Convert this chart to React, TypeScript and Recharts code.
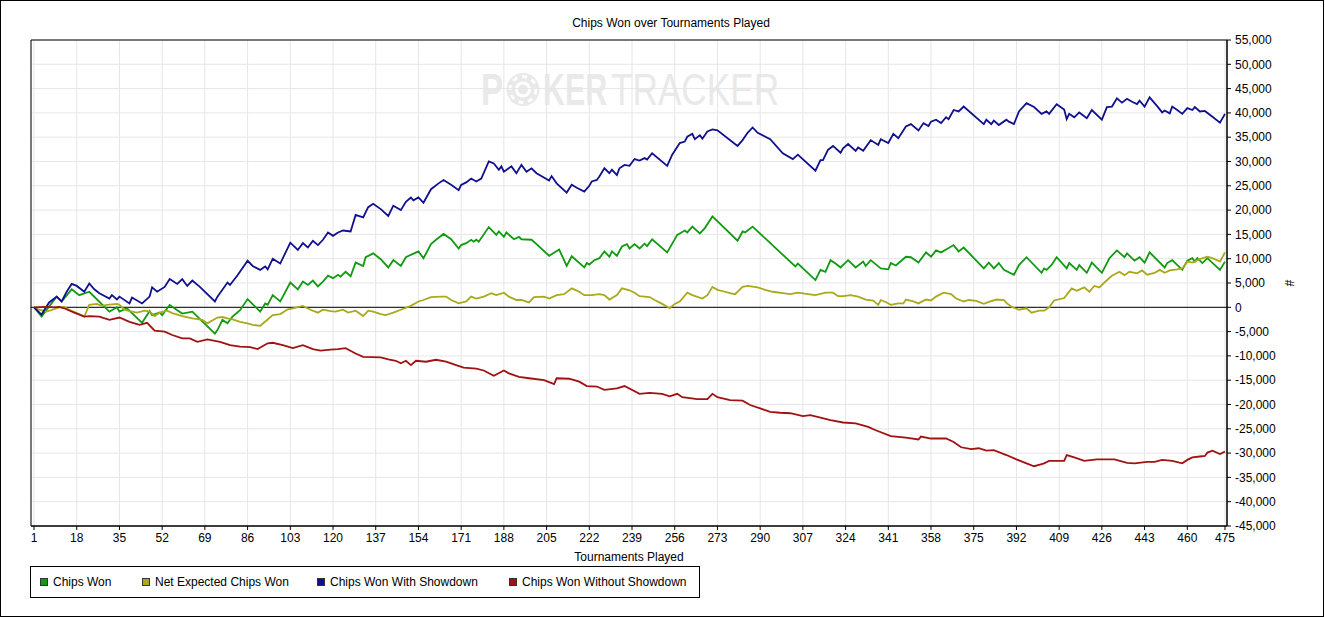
import React from 'react'
import {
  LineChart, Line, XAxis, YAxis, CartesianGrid, ReferenceLine, ReferenceArea,
} from 'recharts'

// [tournament, chips]
const chipsWon: [number, number][] = [
  [1, 0], [4, -1900], [10, 2200], [12, 1200], [16, 3700], [19, 2500], [23, 3200], [31, -900], [34, 0], [35, -900],
  [38, -200], [44, -3200], [47, -800], [48, -1600], [51, -1100], [52, -1600], [55, 500], [58, -600], [60, -1300], [64, -900],
  [73, -5400], [74, -4700], [76, -2600], [78, -3300], [80, -1900], [83, -600], [86, 1700], [91, -900], [93, 800], [94, 500],
  [96, 2500], [99, 1200], [103, 5100], [106, 3700], [108, 5300], [110, 4600], [112, 5500], [114, 4300], [116, 5300], [118, 6500],
  [120, 6000], [122, 6700], [123, 6300], [125, 7300], [127, 6400], [129, 9200], [132, 8500], [133, 10300], [136, 11100], [139, 9900],
  [142, 8200], [144, 9700], [147, 8500], [149, 10300], [151, 10800], [154, 11500], [156, 10100], [159, 13000], [161, 13900], [164, 15100],
  [167, 14000], [170, 12100], [171, 12800], [173, 13200], [175, 13900], [176, 13500], [177, 13900], [178, 13500], [182, 16500], [185, 14900],
  [186, 15600], [188, 14500], [189, 15400], [192, 14000], [194, 14500], [195, 14000], [199, 13900], [201, 13000], [206, 10600], [210, 11900],
  [213, 8500], [215, 10500], [220, 8200], [221, 9100], [222, 8800], [224, 9700], [226, 10100], [228, 11500], [230, 10400], [231, 11500],
  [233, 10600], [235, 12500], [237, 13000], [238, 12100], [240, 13000], [242, 12100], [244, 13100], [245, 12600], [247, 14000], [253, 11300],
  [257, 14900], [258, 15200], [260, 15800], [261, 15400], [263, 16600], [266, 15200], [268, 16300], [271, 18700], [281, 13700], [283, 15600],
  [284, 15400], [287, 16600], [304, 8400], [305, 9000], [312, 5600], [314, 7700], [316, 7300], [318, 9700], [320, 9000], [322, 8200],
  [325, 9700], [328, 8200], [331, 9400], [332, 8500], [334, 9700], [338, 8000], [341, 7800], [342, 9100], [344, 8600], [348, 10400],
  [350, 10300], [353, 9200], [356, 11300], [358, 10400], [360, 11700], [362, 11300], [364, 11900], [367, 12800], [369, 11500], [371, 12300],
  [379, 8000], [381, 9200], [383, 8000], [385, 9100], [387, 7700], [391, 6700], [393, 8700], [396, 10300], [402, 7100], [403, 8000],
  [404, 7700], [406, 8700], [408, 10300], [412, 8000], [413, 9100], [416, 7700], [417, 8700], [420, 7100], [422, 9200], [426, 7100],
  [429, 10100], [432, 11700], [435, 10300], [436, 11100], [439, 9600], [441, 10300], [443, 9200], [445, 11300], [451, 8200], [452, 9100],
  [454, 9700], [458, 7700], [460, 9600], [462, 10100], [463, 9400], [464, 10100], [466, 9100], [468, 10100], [473, 7700], [475, 9400],
]

const netExpected: [number, number][] = [
  [1, 0], [3, -500], [6, -900], [9, -400], [11, 0], [13, 100], [15, -500], [19, -1400], [21, -1900], [23, 500],
  [26, 700], [28, 300], [30, 500], [34, 700], [35, 500], [37, -500], [39, -800], [42, -1100], [45, -700], [47, -900],
  [49, -1800], [51, -1100], [54, -700], [56, -1200], [60, -1800], [64, -2300], [68, -2600], [70, -3300], [74, -2100], [76, -2000],
  [78, -2300], [80, -2500], [83, -3000], [86, -3300], [88, -3600], [91, -3800], [94, -2500], [96, -1600], [99, -1400], [102, -400],
  [104, -200], [108, 300], [111, -500], [114, -1100], [116, -500], [119, -800], [121, -900], [124, -500], [126, -1100], [129, -700],
  [132, -1800], [134, -700], [136, -900], [139, -1400], [141, -1600], [144, -1100], [147, -500], [151, 300], [154, 1200], [156, 1500],
  [159, 2100], [163, 2200], [165, 2200], [167, 1500], [170, 800], [173, 1200], [175, 2200], [177, 1800], [180, 2200], [183, 2900],
  [185, 2500], [188, 3000], [190, 2200], [193, 1500], [195, 1500], [198, 1000], [200, 2100], [204, 2200], [206, 1800], [209, 2500],
  [212, 2700], [215, 3900], [218, 3200], [220, 2500], [223, 2500], [226, 2700], [228, 2500], [230, 1600], [233, 2500], [235, 3900],
  [238, 3500], [240, 3000], [242, 2300], [246, 2100], [248, 1500], [251, 700], [254, -200], [256, 700], [258, 1200], [261, 3000],
  [263, 2500], [267, 1800], [269, 2500], [271, 4200], [273, 3600], [276, 3200], [278, 2900], [280, 2700], [283, 4200], [285, 4400],
  [289, 4100], [292, 3600], [295, 3200], [299, 2900], [302, 2700], [305, 3000], [309, 2700], [312, 2500], [316, 3000], [319, 3000],
  [321, 2300], [323, 2300], [326, 2500], [329, 2200], [332, 1600], [335, 1400], [337, 500], [338, 1500], [340, 1100], [342, 500],
  [345, 800], [347, 800], [348, 1600], [351, 1200], [353, 800], [356, 1600], [358, 1400], [360, 2200], [363, 3000], [366, 2700],
  [368, 1800], [371, 1200], [373, 1500], [376, 1300], [379, 700], [381, 1100], [384, 1600], [387, 1500], [388, 900], [390, 100],
  [393, -500], [396, -200], [398, -1100], [401, -700], [403, -700], [405, 0], [407, 1400], [411, 1900], [414, 3900], [416, 3400],
  [419, 4100], [421, 3200], [423, 4400], [425, 4100], [427, 5100], [430, 6500], [433, 7300], [435, 6600], [437, 7300], [440, 7000],
  [442, 7600], [444, 6700], [447, 7100], [449, 7700], [451, 7100], [453, 7600], [456, 7800], [458, 8000], [460, 9400], [462, 9200],
  [465, 9900], [468, 10400], [470, 10100], [473, 9400], [475, 11300],
]

const withShowdown: [number, number][] = [
  [1, 0], [4, -1500], [7, 1000], [10, 2200], [12, 1200], [14, 3200], [16, 4800], [18, 4400], [21, 3200], [23, 4900],
  [25, 3700], [27, 2900], [31, 1800], [32, 2500], [34, 1600], [35, 2200], [39, 800], [40, 2000], [44, 800], [47, 2200],
  [48, 4100], [50, 3200], [53, 4200], [55, 5800], [58, 4800], [60, 5800], [62, 4400], [64, 5500], [67, 4200], [73, 1200],
  [74, 2200], [78, 5100], [79, 4600], [82, 6600], [86, 9600], [88, 8500], [91, 7700], [93, 8400], [94, 7800], [96, 10000],
  [99, 9000], [103, 13300], [106, 11800], [108, 13200], [110, 12300], [112, 13700], [114, 12800], [116, 13900], [118, 15400], [120, 14700],
  [122, 15400], [124, 15800], [127, 15600], [129, 19000], [132, 18500], [134, 20600], [136, 21300], [139, 20200], [142, 18800], [144, 20900],
  [147, 20000], [149, 21700], [151, 22600], [152, 22000], [154, 22600], [156, 21500], [159, 24300], [162, 25500], [164, 26200], [167, 25200],
  [170, 24100], [171, 25200], [173, 25700], [175, 26500], [177, 25900], [179, 26500], [182, 30000], [184, 29600], [186, 28300], [187, 29000],
  [188, 27900], [191, 29000], [193, 27600], [195, 29300], [197, 27900], [199, 28600], [201, 27600], [206, 26100], [207, 27000], [209, 25500],
  [213, 23600], [215, 25200], [217, 24600], [220, 23800], [222, 25000], [223, 25900], [225, 26200], [226, 26900], [228, 28600], [230, 27600],
  [231, 28300], [233, 27200], [234, 28600], [236, 29300], [238, 29100], [240, 30500], [242, 30200], [244, 30700], [245, 30400], [247, 31700],
  [253, 29100], [255, 31400], [258, 33800], [260, 34100], [261, 35100], [263, 35700], [264, 34600], [266, 35400], [267, 34700], [269, 36200],
  [271, 36600], [273, 36400], [281, 33200], [283, 34400], [285, 35900], [287, 37000], [289, 35900], [294, 34600], [299, 31700], [303, 30500],
  [305, 31400], [312, 28100], [314, 30300], [315, 30300], [317, 32400], [319, 33200], [322, 31800], [323, 32700], [325, 33600], [328, 32200],
  [329, 32900], [331, 32200], [334, 34400], [337, 33400], [338, 34600], [341, 33800], [343, 35700], [345, 34800], [348, 37200], [350, 37700],
  [353, 36400], [355, 37900], [357, 37300], [358, 38200], [360, 38600], [362, 37900], [364, 39100], [365, 38700], [367, 40600], [369, 40300],
  [371, 41300], [379, 37700], [380, 38600], [382, 37700], [383, 38400], [385, 37500], [388, 38600], [389, 38200], [391, 37700], [393, 40300],
  [396, 42000], [399, 41200], [402, 39800], [404, 40300], [405, 39800], [408, 41800], [411, 40700], [412, 38700], [413, 39800], [415, 39100],
  [417, 40100], [420, 38900], [422, 40600], [426, 38600], [428, 41200], [430, 41300], [432, 43000], [434, 42100], [436, 42900], [438, 42300],
  [440, 41800], [441, 42500], [443, 41300], [445, 43200], [448, 41400], [450, 40100], [451, 40500], [453, 39900], [454, 41300], [456, 40600],
  [458, 39800], [460, 41000], [462, 40600], [463, 41200], [465, 40300], [467, 40400], [470, 39200], [473, 38000], [475, 39800],
]

const withoutShowdown: [number, number][] = [
  [1, 0], [6, 100], [9, 0], [11, 100], [13, -200], [17, -1100], [21, -1900], [23, -1800], [27, -1900], [31, -2600],
  [35, -2100], [39, -3000], [43, -3600], [46, -3200], [49, -4800], [53, -5000], [56, -5700], [60, -6400], [63, -6400], [66, -7100],
  [70, -6600], [75, -7100], [79, -7800], [83, -8100], [87, -8200], [90, -8600], [94, -7400], [96, -7300], [100, -7800], [104, -8400],
  [108, -7800], [112, -8600], [115, -8900], [119, -8700], [122, -8600], [125, -8400], [129, -9500], [132, -10200], [139, -10300], [142, -10700],
  [145, -11000], [147, -11500], [149, -11000], [151, -11900], [153, -11000], [157, -11200], [161, -10800], [165, -11200], [169, -11900], [172, -12400],
  [177, -12600], [180, -13000], [184, -14100], [188, -13000], [190, -13600], [194, -14300], [198, -14600], [204, -15000], [208, -15800], [209, -14600],
  [214, -14700], [218, -15300], [221, -16200], [225, -16300], [228, -17000], [233, -16700], [236, -16200], [242, -17800], [246, -17600], [251, -17800],
  [254, -18300], [257, -17800], [259, -18500], [265, -18900], [269, -18900], [271, -17800], [273, -18500], [278, -19100], [283, -19200], [286, -20100],
  [290, -20800], [294, -21500], [298, -21700], [302, -21800], [307, -22400], [310, -22200], [314, -22700], [318, -23200], [323, -23700], [328, -23900],
  [333, -24600], [336, -25300], [342, -26500], [348, -26800], [353, -27200], [354, -26600], [358, -27000], [364, -27000], [367, -27700], [370, -28800],
  [374, -29200], [377, -29000], [380, -29500], [383, -29400], [388, -30400], [392, -31300], [396, -32100], [399, -32700], [401, -32400], [403, -32100],
  [405, -31600], [411, -31600], [412, -30400], [415, -30900], [419, -31600], [424, -31300], [431, -31300], [436, -32000], [439, -32100], [444, -31800],
  [447, -31800], [450, -31400], [454, -31600], [458, -32100], [460, -31400], [462, -30900], [465, -30700], [467, -30600], [468, -29900], [470, -29500],
  [473, -30200], [475, -29700],
]

const xTicks = [1, 18, 35, 52, 69, 86, 103, 120, 137, 154, 171, 188, 205, 222, 239, 256, 273, 290, 307, 324, 341, 358, 375, 392, 409, 426, 443, 460, 475]
const yTicks = [-45000, -40000, -35000, -30000, -25000, -20000, -15000, -10000, -5000, 0, 5000, 10000, 15000, 20000, 25000, 30000, 35000, 40000, 45000, 50000, 55000]

const series = [
  { name: 'Chips Won', color: '#119a11', data: chipsWon },
  { name: 'Net Expected Chips Won', color: '#a9a91c', data: netExpected },
  { name: 'Chips Won With Showdown', color: '#10108f', data: withShowdown },
  { name: 'Chips Won Without Showdown', color: '#a01212', data: withoutShowdown },
]

const FONT = '"Liberation Sans", Arial, sans-serif'
const toPts = (arr: [number, number][]) => arr.map(([t, v]) => ({ t, v }))

// faint PokerTracker logo behind the plot (squeezed with scale, not textLength)
function Watermark() {
  const c = '#e9e9e9'
  return (
    <svg width={1324} height={617} style={{ position: 'absolute', left: -1, top: -1 }}>
      <g fontFamily={FONT} fill={c} fontSize={44}>
        <text transform="translate(481 105) scale(0.75 1)" fontWeight={700}>P</text>
        <circle cx={523} cy={89.5} r={16.5} fill={c} />
        <circle cx={523} cy={89.5} r={13} fill="none" stroke="#fff" strokeWidth={3} strokeDasharray="5 5" />
        <circle cx={523} cy={89.5} r={8} fill="#fff" />
        <circle cx={523} cy={89.5} r={5} fill={c} />
        <text transform="translate(543 105) scale(0.69 1)" fontWeight={700}>KER</text>
        <text transform="translate(611 105) scale(0.8 1)">TRACKER</text>
      </g>
    </svg>
  )
}

export default function App() {
  const tickStyle = { fill: '#000', fontSize: 12, fontFamily: FONT }
  return (
    <div
      style={{
        position: 'absolute', left: 0, top: 0, width: 1324, height: 617,
        boxSizing: 'border-box', border: '1px solid #000', background: '#fff',
        fontFamily: FONT, overflow: 'hidden',
      }}
    >
      <Watermark />
      <div
        style={{
          position: 'absolute', left: -1, top: 15, width: 1342, textAlign: 'center',
          fontSize: 12, lineHeight: '14px', color: '#000',
        }}
      >
        Chips Won over Tournaments Played
      </div>
      <div style={{ position: 'absolute', left: -1, top: -1 }}>
        <LineChart width={1324} height={617} margin={{ top: 40, right: 37, bottom: 51, left: 31 }}>
          <CartesianGrid stroke="#e6e6e6" />
          <XAxis
            type="number"
            dataKey="t"
            domain={[-0.2, 475.8]}
            ticks={xTicks}
            interval={0}
            height={40}
            tick={tickStyle}
            tickSize={4}
            tickMargin={3}
            stroke="#000"
            label={{ value: 'Tournaments Played', position: 'insideBottom', offset: 5, fill: '#000', fontSize: 12, fontFamily: FONT }}
          />
          <YAxis
            orientation="right"
            type="number"
            domain={[-45000, 55000]}
            ticks={yTicks}
            interval={0}
            width={60}
            tick={tickStyle}
            tickSize={4}
            tickMargin={4}
            stroke="#000"
            tickFormatter={(v: number) => v.toLocaleString('en-US')}
            label={{
              content: (props: any) => {
                const vb = props.viewBox || {}
                const cx = (vb.x ?? 1227) + 62
                const cy = (vb.y ?? 40) + (vb.height ?? 486) / 2
                return (
                  <text x={cx} y={cy} textAnchor="middle" dominantBaseline="central" fontSize={12}
                    fontFamily={FONT} fill="#000" transform={`rotate(90 ${cx} ${cy})`}>#</text>
                )
              },
            }}
          />
          <ReferenceLine y={0} stroke="#000" strokeWidth={1} />
          {series.map((s) => (
            <Line
              key={s.name}
              data={toPts(s.data)}
              dataKey="v"
              name={s.name}
              type="linear"
              stroke={s.color}
              strokeWidth={1.8}
              dot={false}
              activeDot={false}
              isAnimationActive={false}
            />
          ))}
          <ReferenceArea x1={-0.2} x2={475.8} y1={-45000} y2={55000} fill="none" fillOpacity={0} stroke="#000" strokeOpacity={1} />
        </LineChart>
      </div>
      <div
        style={{
          position: 'absolute', left: 29, top: 565, width: 670, height: 32,
          boxSizing: 'border-box', border: '1px solid #000', background: '#fff',
          fontSize: 12, color: '#000',
        }}
      >
        {series.map((s, i) => (
          <div
            key={s.name}
            style={{
              position: 'absolute', left: [9, 111, 286, 478][i], top: 0, height: 30,
              display: 'flex', alignItems: 'center', whiteSpace: 'nowrap',
            }}
          >
            <span
              style={{
                display: 'inline-block', width: 8, height: 8, boxSizing: 'border-box',
                border: '1px solid #333', background: s.color, marginRight: 5,
              }}
            />
            {s.name}
          </div>
        ))}
      </div>
    </div>
  )
}
